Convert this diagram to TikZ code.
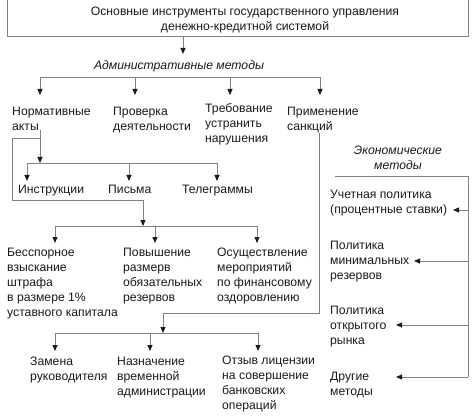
\documentclass[tikz,border=0pt]{standalone}
\usepackage{fontspec}
\setmainfont{Liberation Sans}
\usetikzlibrary{arrows.meta}
\definecolor{ln}{HTML}{808080}
\definecolor{tx}{HTML}{1A1A1A}
\begin{document}
\begin{tikzpicture}[x=1pt,y=-1pt,
  conn/.style={draw=ln,line width=0.8pt},
  arr/.style={conn,-{Triangle[length=6pt,width=5pt,color=tx]}},
  lbl/.style={anchor=north west,inner sep=0pt,align=left,text=tx,font=\fontsize{12.2}{15}\selectfont},
  hdr/.style={inner sep=0pt,align=center,text=tx,font=\fontsize{12.2}{15}\selectfont\itshape}]
\useasboundingbox[fill=white] (0,0) rectangle (474,417);

% title
\node[inner sep=0pt,align=center,text=tx,font=\fontsize{12.2}{15}\selectfont] (title) at (245,20)
  {Основные инструменты государственного управления\\денежно-кредитной системой};
\coordinate (tl) at (7,0); \coordinate (tr) at (468,0);
\coordinate (bl) at (7,36); \coordinate (br) at (468,36);
\coordinate (tdown) at (183,36); \coordinate (admtip) at (183,54);
\draw[conn] (tl) -- (bl) -- (br) -- (tr);
\draw[arr] (tdown) -- (admtip);

% administrative
\node[hdr] (adm) at (179,66) {Административные методы};
\coordinate (a1) at (40,77); \coordinate (a2) at (135,77);
\coordinate (a3) at (230,77); \coordinate (a4) at (320,77);
\draw[conn] (a1) -- (a4);

\node[lbl] (norm) at (12,107) {Нормативные\\акты};
\node[lbl] (prov) at (113,107) {Проверка\\деятельности};
\node[lbl] (treb) at (205,103) {Требование\\устранить\\нарушения};
\node[lbl] (prim) at (287,107) {Применение\\санкций};
\foreach \a/\n in {a1/norm,a2/prov,a3/treb,a4/prim}
  \draw[arr] (\a) -- (\a |- 0,95);

% normative acts -> instructions etc.
\coordinate (n0) at (40,130); \coordinate (n1) at (40,138);
\coordinate (ih) at (40,163);
\coordinate (i1) at (27,163); \coordinate (i2) at (129,163); \coordinate (i3) at (217,163);
\draw[conn] (n0) -- (n1);
\draw[arr] (n1) -- (ih);
\draw[conn] (i1) -- (i3);
\node[lbl] (instr) at (18,185) {Инструкции};
\node[lbl] (pism) at (108,185) {Письма};
\node[lbl] (teleg) at (182,185) {Телеграммы};
\draw[arr] (i1) -- (i1 |- 0,181);
\draw[arr] (i2) -- (i2 |- 0,181);
\draw[arr] (i3) -- (i3 |- 0,181);

% loop to sanctions row
\coordinate (l1) at (12,138); \coordinate (l2) at (12,200);
\coordinate (l3) at (143,200); \coordinate (l4) at (143,226);
\draw[conn] (n1) -- (l1) -- (l2) -- (l3);
\draw[arr] (l3) -- (l4);
\coordinate (s1) at (55,226); \coordinate (s2) at (155,226); \coordinate (s3) at (257,226);
\draw[conn] (s1) -- (s3);
\draw[arr] (s1) -- (s1 |- 0,243);
\draw[arr] (s2) -- (s2 |- 0,243);
\draw[arr] (s3) -- (s3 |- 0,243);
\node[lbl] (bessp) at (7,248) {Бесспорное\\взыскание\\штрафа\\в размере 1\%\\уставного капитала};
\node[lbl] (povysh) at (123,248) {Повышение\\размерв\\обязательных\\резервов};
\node[lbl] (osush) at (217,248) {Осуществление\\мероприятий\\по финансовому\\оздоровлению};

% sanctions line
\coordinate (p0) at (319,133); \coordinate (p1) at (319,313);
\coordinate (p2) at (163,313); \coordinate (p3) at (163,333);
\draw[conn] (p0) -- (p1) -- (p2);
\draw[arr] (p2) -- (p3);
\coordinate (b1) at (55,333); \coordinate (b2) at (150,333); \coordinate (b3) at (258,333);
\draw[conn] (b1) -- (b3);
\draw[arr] (b1) -- (b1 |- 0,351);
\draw[arr] (b2) -- (b2 |- 0,351);
\draw[arr] (b3) -- (b3 |- 0,351);
\node[lbl] (zam) at (30,357) {Замена\\руководителя};
\node[lbl] (nazn) at (117,357) {Назначение\\временной\\администрации};
\node[lbl] (otz) at (222,356) {Отзыв лицензии\\на совершение\\банковских\\операций};

% economic methods
\node[hdr] (eco) at (398,157.5) {Экономические\\методы};
\coordinate (e0) at (335,176); \coordinate (e1) at (468,176); \coordinate (e2) at (468,377);
\draw[conn] (e0) -- (e1) -- (e2);
\node[lbl] (uch) at (330,190) {Учетная политика\\(процентные ставки)};
\node[lbl] (pmin) at (330,241) {Политика\\минимальных\\резервов};
\node[lbl] (potk) at (330,306) {Политика\\открытого\\рынка};
\node[lbl] (drug) at (330,372) {Другие\\методы};
\coordinate (r1) at (468,210); \coordinate (r2) at (468,261);
\coordinate (r3) at (468,325);
\draw[arr] (r1) -- (453,210);
\draw[arr] (r2) -- (414,261);
\draw[arr] (r3) -- (396,325);
\draw[arr] (e2) -- (396,377);
\end{tikzpicture}
\end{document}
